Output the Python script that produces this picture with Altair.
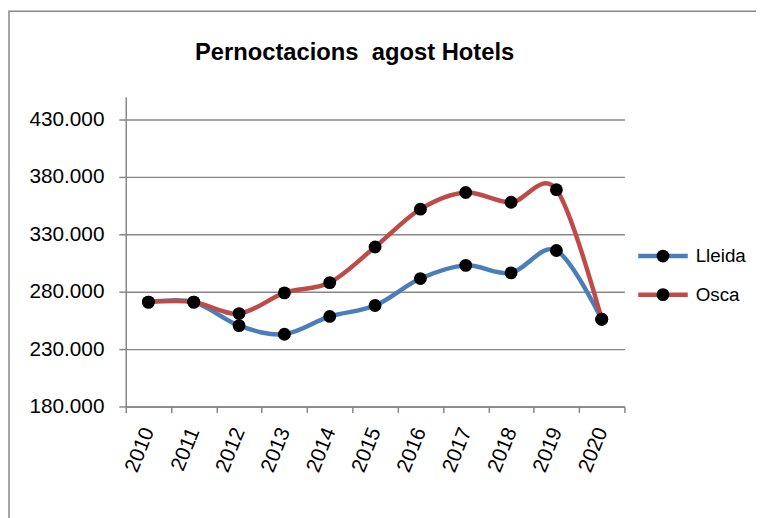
import altair as alt
import pandas as pd

# ---- data ----
years = ["2010", "2011", "2012", "2013", "2014", "2015", "2016", "2017", "2018", "2019", "2020"]
lleida = [271000, 271000, 250500, 243000, 258500, 268000, 291500, 303000, 296500, 316000, 256000]
osca = [271000, 271000, 261000, 279000, 288000, 319000, 352000, 366500, 358000, 369000, 256000]
series_names = ["Lleida", "Osca"]
series_colors = ["#4A7EBB", "#BE4B48"]
y_tick_values = [180000, 230000, 280000, 330000, 380000, 430000]
y_domain = [180000, 450000]
title_text = "Pernoctacions\u00a0 agost Hotels"

rows = []
for name, vals in zip(series_names, [lleida, osca]):
    for yr, v in zip(years, vals):
        rows.append({"year": yr, "value": v, "serie": name, "serie2": name})
df = pd.DataFrame(rows)

FONT = "Liberation Sans"
GRAY = "#878787"

x_enc = alt.X(
    "year:O",
    sort=years,
    scale=alt.Scale(type="band", paddingInner=0, paddingOuter=0),
    axis=alt.Axis(
        title=None,
        tickBand="extent",
        labelAngle=292,
        labelAlign="right",
        labelBaseline="middle",
        labelPadding=16,
        labelFont=FONT,
        labelFontSize=21,
        labelColor="black",
        tickSize=6,
        tickColor=GRAY,
        tickWidth=1.5,
        domainColor=GRAY,
        domainWidth=1.5,
        grid=False,
    ),
)
y_enc = alt.Y(
    "value:Q",
    scale=alt.Scale(domain=y_domain, nice=False, zero=False),
    axis=alt.Axis(
        title=None,
        values=y_tick_values,
        labelExpr="replace(format(datum.value, ','), ',', '.')",
        labelFont=FONT,
        labelFontSize=21,
        labelColor="black",
        labelPadding=15,
        tickSize=7,
        tickColor=GRAY,
        tickWidth=1.5,
        domainColor=GRAY,
        domainWidth=1.5,
        grid=True,
        gridColor=GRAY,
        gridWidth=1.4,
    ),
)

lines = alt.Chart(df).mark_line(
    interpolate="cardinal", tension=0, strokeWidth=4.5
).encode(
    x=x_enc,
    y=y_enc,
    color=alt.Color(
        "serie:N",
        scale=alt.Scale(domain=series_names, range=series_colors),
        legend=alt.Legend(
            title=None,
            orient="none",
            legendX=533.5,
            legendY=151.5,
            padding=0,
            symbolType="M-3.85,0H3.85",
            symbolSize=169,
            symbolStrokeWidth=4.5,
            labelFontSize=19,
            labelFont=FONT,
            labelOpacity=0,
            labelOffset=23.5,
            rowPadding=19,
        ),
    ),
    detail="serie:N",
)

points = alt.Chart(df).mark_point(
    filled=True, color="black", size=169, opacity=1
).encode(
    x=x_enc,
    y=y_enc,
    shape=alt.Shape(
        "serie2:N",
        scale=alt.Scale(range=["circle", "circle"]),
        legend=alt.Legend(
            title=None,
            orient="none",
            legendX=533.5,
            legendY=151.5,
            padding=0,
            symbolSize=169,
            symbolFillColor="black",
            symbolStrokeColor="black",
            symbolStrokeWidth=0,
            labelFontSize=19,
            labelFont=FONT,
            labelColor="black",
            labelOffset=23.5,
            rowPadding=19,
        ),
    ),
)

title_df = pd.DataFrame({"t": [title_text]})
title_mark = alt.Chart(title_df).mark_text(
    font=FONT, fontSize=24, fontWeight="bold", color="black",
    align="left", baseline="alphabetic",
).encode(text="t:N", x=alt.value(70), y=alt.value(-37))

border = alt.Chart(title_df).mark_rect(
    fillOpacity=0, stroke=GRAY, strokeWidth=1.5
).encode(x=alt.value(-118), x2=alt.value(700), y=alt.value(-86.5), y2=alt.value(520))

chart = alt.layer(border, title_mark, lines, points).properties(
    width=504,
    height=313,
    autosize=alt.AutoSizeParams(type="none"),
    padding={"left": 119, "top": 87, "right": 133, "bottom": 110},
).configure_view(strokeWidth=0)

chart.save("out.html", embed_options={"renderer": "svg", "actions": False})
